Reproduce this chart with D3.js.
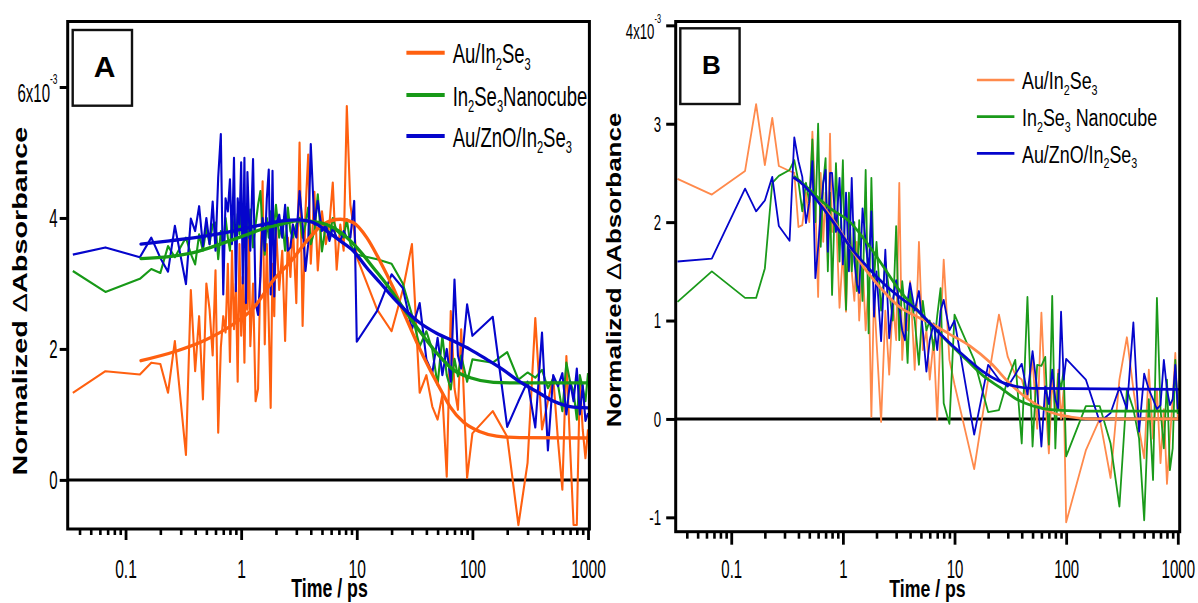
<!DOCTYPE html>
<html><head><meta charset="utf-8">
<script src="https://cdn.jsdelivr.net/npm/d3@7"></script>
<style>body{margin:0;background:#fff}svg{display:block}</style>
</head><body>
<svg id="chart" width="1198" height="603"></svg>
<script>
// ---------------- DATA (values in units of 1e-3) ----------------
const xTickValues = [0.1, 1, 10, 100, 1000];
const xTickLabels = ["0.1", "1", "10", "100", "1000"];
const yTicksA = [0, 2, 4, 6];
const yTickLabelsA = ["0", "2", "4", "6x10^-3"];
const yTicksB = [-1, 0, 1, 2, 3, 4];
const yTickLabelsB = ["-1", "0", "1", "2", "3", "4x10^-3"];
const seriesNamesA = ["Au/In_2Se_3", "In_2Se_3Nanocube", "Au/ZnO/In_2Se_3"];
const seriesNamesB = ["Au/In_2Se_3", "In_2Se_3 Nanocube", "Au/ZnO/In_2Se_3"];

const timeA = [
 0.035,0.067,0.133,0.167,0.2,0.233,0.267,0.333,0.367,0.4,
 0.433,0.467,0.5,0.533,0.567,0.6,0.633,0.667,0.7,0.733,
 0.767,0.8,0.833,0.867,0.9,0.933,0.967,1.0,1.033,1.067,
 1.1,1.133,1.167,1.2,1.267,1.333,1.4,1.467,1.533,1.6,
 1.667,1.733,1.8,1.867,1.933,2.0,2.133,2.267,2.4,2.533,
 2.667,2.8,3.0,3.2,3.4,3.6,3.8,4.0,4.3,4.6,
 5.0,5.4,5.8,6.2,6.7,7.2,7.7,8.2,8.8,9.5,
 10,15,20,25,30,35,40,45,50,55,
 60,65,70,75,80,90,100,150,200,250,
 300,350,400,450,500,550,600,650,700,750,
 800,850,900,950,1000];
const auIn2Se3A = [
 1.33,1.66,1.61,1.79,1.77,1.33,2.12,0.38,2.9,1.66,
 2.5,1.23,3.0,2.6,1.9,3.2,0.72,2.02,2.5,2.25,
 3.3,1.8,3.5,2.3,3.0,1.5,3.6,2.2,3.1,1.79,
 3.3,2.6,3.8,2.04,3.0,1.2,1.39,3.2,4.56,2.07,
 3.6,2.4,1.1,3.3,2.5,3.9,2.9,3.5,2.12,3.7,
 3.1,3.9,2.7,5.15,2.35,4.1,4.97,3.3,4.4,3.2,
 4.1,3.6,3.9,4.54,3.21,3.9,3.5,5.71,4.2,3.8,
 3.4,2.6,2.27,2.9,3.6,1.33,1.6,1.12,0.92,1.3,
 0.05,2.58,1.4,1.07,2.3,0.03,0.71,1.05,0.66,-0.69,
 0.26,2.47,0.77,1.2,1.57,0.6,-0.15,1.89,0.5,-0.69,
 -0.69,1.5,0.77,0.33,0.77];
const nanocubeA = [
 3.19,2.87,3.07,3.22,3.16,3.57,3.4,3.7,3.45,3.29,
 3.75,3.5,3.85,3.6,3.9,3.93,3.37,3.8,3.55,4.0,
 3.7,3.5,4.06,3.8,3.6,4.06,3.75,4.1,3.9,4.16,
 3.55,4.0,3.7,4.13,3.55,3.9,4.2,4.41,3.8,3.44,
 4.0,3.7,4.1,3.6,3.9,4.2,3.7,3.95,3.5,4.16,
 3.8,3.7,3.9,4.0,3.7,3.9,4.16,3.6,3.8,4.36,
 3.49,3.9,3.7,4.0,3.8,3.75,3.7,3.98,3.6,3.5,
 3.44,3.37,3.3,3.0,2.52,2.04,2.27,1.99,1.45,2.2,
 1.6,1.38,1.85,1.58,1.9,1.5,1.84,1.79,1.95,1.53,
 1.64,1.56,1.68,1.40,1.55,1.45,1.05,1.79,1.5,1.35,
 0.92,1.6,1.4,1.2,1.63];
const auZnOIn2Se3A = [
 3.44,3.55,3.4,3.7,3.39,3.18,3.88,2.99,3.99,3.8,
 4.18,3.57,4.0,3.6,4.25,3.5,4.62,5.28,2.83,4.3,
 4.1,4.59,3.6,4.92,2.88,4.3,3.9,4.85,3.0,4.92,
 2.7,4.7,4.0,3.5,4.9,2.7,2.52,3.1,4.0,3.5,
 4.3,4.74,2.83,4.72,2.8,3.9,4.05,3.7,4.2,3.5,
 3.55,3.9,3.7,4.41,3.9,3.19,3.6,5.13,3.9,4.26,
 3.8,3.9,3.65,3.85,3.7,3.65,3.8,3.7,3.7,4.26,
 2.11,2.58,3.14,2.93,2.3,2.7,1.84,1.63,2.17,1.6,
 2.0,1.5,3.06,1.9,1.7,2.68,2.2,2.49,0.81,1.2,
 1.5,0.8,2.25,0.45,1.6,1.43,1.63,1.0,1.5,1.2,
 1.7,1.0,1.45,0.9,1.02];

const fitTimeAuA = [0.136,0.268,0.47,0.89,1.27,1.9,2.7,3.7,5.1,7.2,9.3,12.2,15.9,20.7,27,33,43,53,64,84,115,162,256,1000];
const fitAuA     = [1.82,1.96,2.12,2.4,2.62,3.05,3.34,3.65,3.9,3.98,3.93,3.7,3.34,2.93,2.45,2.1,1.68,1.38,1.12,0.88,0.74,0.67,0.645,0.64];
const fitTimeCubeA = [0.136,0.24,0.386,0.66,1.1,1.46,2.17,3.2,4.8,6.3,8.2,10.7,13.9,18.2,23.6,35,49,68.5,96,152,256,1000];
const fitCubeA     = [3.38,3.41,3.47,3.6,3.74,3.82,3.9,3.96,3.93,3.85,3.7,3.49,3.24,2.98,2.7,2.27,1.94,1.68,1.56,1.49,1.48,1.48];
const fitTimeZnOA = [0.136,0.24,0.44,0.75,1.46,2.17,3.2,4.2,5.5,7.2,9.4,12.2,15.9,20.7,35,49,68.5,96,133,185,256,360,505,700,1000];
const fitZnOA     = [3.6,3.65,3.71,3.78,3.89,3.95,3.97,3.93,3.8,3.65,3.49,3.24,3.01,2.78,2.4,2.24,2.12,1.99,1.84,1.68,1.5,1.35,1.2,1.12,1.1];

const timeB = [
 0.033,0.067,0.133,0.167,0.2,0.233,0.267,0.333,0.367,0.4,
 0.433,0.467,0.5,0.533,0.567,0.6,0.633,0.667,0.7,0.733,
 0.767,0.8,0.867,0.933,1.0,1.067,1.133,1.2,1.267,1.333,
 1.4,1.5,1.6,1.7,1.8,1.9,2.0,2.2,2.4,2.6,
 2.8,3.0,3.2,3.4,3.6,3.8,4.0,4.4,4.8,5.2,
 5.6,6.0,6.5,7.0,7.5,8.0,9.0,10,15,20,
 25,30,35,40,45,50,55,60,65,70,
 75,80,85,90,95,100,150,200,250,300,
 350,400,450,500,550,600,650,700,750,800,
 850,900,950,1000];
const auIn2Se3B = [
 2.44,2.28,2.52,3.2,2.58,3.06,2.57,2.52,2.5,1.95,
 1.97,2.3,2.0,2.92,2.2,1.24,2.5,1.8,2.3,1.6,
 2.9,1.9,2.1,1.13,1.7,1.09,2.2,1.5,1.2,1.8,
 1.0,1.6,0.9,1.4,0.02,1.3,0.8,-0.03,1.1,0.45,
 1.2,0.8,2.4,0.6,1.1,0.9,1.4,0.5,1.8,0.7,
 0.9,0.4,0.8,-0.01,0.9,1.62,0.6,0.35,-0.51,0.4,
 1.06,0.63,0.45,0.4,0.2,0.6,-0.1,1.08,0.2,-0.35,
 0.4,0.1,0.5,0.0,0.3,-1.05,-0.32,0.0,-0.6,0.4,
 0.83,0.3,-0.1,-0.4,0.5,-0.2,0.3,-0.45,0.1,-0.66,
 -0.2,0.2,0.67,-0.01];
const nanocubeB = [
 1.19,1.5,1.23,1.23,1.53,2.4,2.47,2.53,2.63,2.41,
 2.11,2.4,2.2,2.84,2.0,3.0,1.75,2.4,2.65,1.5,
 2.3,1.26,2.6,1.6,2.63,1.11,2.3,1.5,2.0,1.3,
 2.02,1.2,2.53,0.87,2.45,1.4,1.8,1.1,1.6,1.3,
 1.0,1.96,0.8,1.4,1.1,0.57,1.3,1.0,0.55,1.2,
 0.9,1.0,0.7,1.05,1.33,0.16,-0.05,1.06,0.6,0.07,
 0.09,0.4,0.6,-0.25,1.24,-0.28,0.55,0.54,0.63,-0.26,
 1.25,-0.3,0.46,0.3,0.5,-0.38,0.13,0.13,-0.25,-0.89,
 0.3,0.1,-0.2,-1.03,0.2,-0.62,1.23,0.1,-0.3,0.4,
 -0.52,-0.3,0.6,0.05];
const auZnOIn2Se3B = [
 1.6,1.63,2.34,2.11,2.22,2.46,1.96,1.81,2.86,2.62,
 2.46,1.99,2.2,2.62,1.43,1.74,2.1,2.4,2.53,1.7,
 2.5,2.5,1.9,2.45,1.57,2.3,1.5,2.45,1.6,1.38,
 1.28,2.14,1.8,1.5,2.11,1.04,1.5,0.79,1.72,0.82,
 1.2,1.41,1.14,0.9,0.8,1.2,1.38,1.1,1.3,0.9,
 0.48,0.8,0.97,0.7,1.1,1.21,0.9,1.0,-0.16,0.55,
 0.4,0.33,0.45,0.56,0.25,0.69,0.3,-0.28,0.33,0.15,
 0.5,0.2,0.1,1.09,0.4,0.61,0.4,-0.03,0.06,0.32,
 0.1,0.98,-0.13,0.46,0.3,0.2,0.1,0.14,0.6,0.3,
 0.14,0.2,0.55,0.1];

const fitTimeAuB = [0.366,0.41,0.82,1.16,1.64,2.3,3.2,4.6,6.4,9.1,13.8,21,31.3,48.4,72,110,165,1000];
const fitAuB     = [2.45,2.41,2.02,1.75,1.5,1.3,1.14,1.04,0.96,0.86,0.74,0.57,0.36,0.18,0.07,0.02,0.0,0.0];
const fitTimeCubeB = [0.37,0.41,0.77,1.16,1.64,2.3,3.2,4.6,6.4,9.1,12.8,18,25.5,36,51,72,142,1000];
const fitCubeB     = [2.46,2.42,2.14,2.0,1.79,1.55,1.31,1.11,0.94,0.76,0.6,0.44,0.32,0.2,0.13,0.095,0.08,0.08];
const fitTimeZnOB = [0.366,0.41,0.82,1.16,1.64,2.3,3.2,4.6,6.4,9.1,12.8,18,25.5,36,51,1000];
const fitZnOB     = [2.45,2.41,2.0,1.75,1.55,1.38,1.24,1.11,0.94,0.77,0.62,0.48,0.38,0.33,0.31,0.3];

// ---------------- DRAWING ----------------
const FONT = "Arial, 'Liberation Sans', sans-serif";
const svg = d3.select("#chart");
const defs = svg.append("defs");

function rich(textSel, str, size, opts) {
  const o = Object.assign({subScale:0.6, subDy:0.24, supScale:0.56, supDy:-0.72}, opts||{});
  const parts = str.split(/(_\d|\^-?\d+)/).filter(s => s.length);
  let shift = 0;
  parts.forEach(p => {
    if (p[0] === "_") {
      const d = size * o.subDy;
      textSel.append("tspan").text(p.slice(1)).style("font-size", (size*o.subScale)+"px").attr("dy", d - shift);
      shift = d;
    } else if (p[0] === "^") {
      const d = size * o.supDy;
      textSel.append("tspan").text(p.slice(1)).style("font-size", (size*o.supScale)+"px").attr("dy", d - shift);
      shift = d;
    } else {
      textSel.append("tspan").text(p).attr("dy", -shift);
      shift = 0;
    }
  });
}

function drawPanel(c) {
  const x = d3.scaleLog().domain(c.xDomain).range([c.left, c.right]);
  const y = d3.scaleLinear().domain(c.yDomain).range([c.bottom, c.top]);
  const g = svg.append("g");

  defs.append("clipPath").attr("id", "clip" + c.name).append("rect")
    .attr("x", c.left).attr("y", c.top).attr("width", c.right - c.left).attr("height", c.bottom - c.top);

  // zero line
  g.append("line").attr("x1", c.left).attr("x2", c.right).attr("y1", y(0)).attr("y2", y(0))
    .attr("stroke", "#000").attr("stroke-width", 3);

  const plot = g.append("g").attr("clip-path", `url(#clip${c.name})`);
  const line = d3.line().x(d => x(d[0])).y(d => y(d[1]));
  c.raws.forEach((vals, i) => {
    plot.append("path").datum(d3.zip(c.time, vals)).attr("d", line)
      .attr("fill", "none").attr("stroke", c.colors[i]).attr("stroke-width", c.rawWidth)
      .attr("stroke-linejoin", "round");
  });
  const fitLine = d3.line().curve(d3.curveMonotoneX).x(d => x(d[0])).y(d => y(d[1]));
  c.fits.forEach((f, i) => {
    plot.append("path").datum(d3.zip(f[0], f[1])).attr("d", fitLine)
      .attr("fill", "none").attr("stroke", c.colors[i]).attr("stroke-width", c.fitWidth)
      .attr("stroke-linecap", "round").attr("stroke-linejoin", "round");
  });

  // frame
  g.append("rect").attr("x", c.left).attr("y", c.top).attr("width", c.right - c.left)
    .attr("height", c.bottom - c.top).attr("fill", "none").attr("stroke", "#000").attr("stroke-width", 3);

  // x axis: minor & major ticks
  const minors = x.ticks().filter(v => !xTickValues.some(m => Math.abs(m - v) < 1e-9));
  const gMinor = g.append("g").attr("transform", `translate(0,${c.bottom})`)
    .call(d3.axisBottom(x).tickValues(minors).tickSize(c.minorLen).tickFormat(""));
  gMinor.select(".domain").remove();
  gMinor.selectAll("line").attr("stroke", "#000").attr("stroke-width", 2.6);
  const gMajor = g.append("g").attr("transform", `translate(0,${c.bottom})`)
    .call(d3.axisBottom(x).tickValues(xTickValues).tickSize(c.majorLen).tickFormat((d, i) => xTickLabels[i]));
  gMajor.select(".domain").remove();
  gMajor.selectAll("line").attr("stroke", "#000").attr("stroke-width", 2.8);
  gMajor.selectAll("text").attr("y", null).attr("dy", null).attr("fill", "#000")
    .attr("transform", `translate(0,${c.xLabelOff}) scale(${c.tickSx},1)`)
    .style("font-family", FONT).style("font-size", c.xTickFont + "px");

  // y axis ticks
  const gY = g.append("g").attr("transform", `translate(${c.left},0)`)
    .call(d3.axisLeft(y).tickValues(c.yTicks).tickSize(c.yTickLen).tickFormat(""));
  gY.select(".domain").remove();
  gY.selectAll("line").attr("stroke", "#000").attr("stroke-width", 3);
  c.yTicks.forEach((v, i) => {
    const lab = c.yTickLabels[i];
    const extra = lab.includes("^") ? c.expDrop : 0;
    const t = g.append("text")
      .attr("transform", `translate(${c.yLabelX},${y(v) + c.yTickFont*0.36 + extra}) scale(${c.tickSx},1)`)
      .attr("text-anchor", "end").style("font-family", FONT).style("font-size", c.yTickFont + "px");
    rich(t, lab, c.yTickFont);
  });

  // axis titles
  g.append("text").attr("transform", `translate(${c.xTitleX},${c.xTitleY}) scale(${c.xTitleSx},1)`)
    .attr("text-anchor", "middle").style("font-family", FONT).style("font-weight", "bold")
    .style("font-size", c.xTitleFont + "px").text("Time / ps");
  const yt = g.append("text").attr("transform", `translate(${c.yTitleX},${c.yTitleY}) scale(${c.yTitleSx},1) rotate(-90)`)
    .attr("text-anchor", "middle").style("font-family", FONT).style("font-weight", "bold")
    .style("font-size", c.yTitleFont + "px");
  yt.append("tspan").text("Normalized ");
  yt.append("tspan").style("font-weight", "normal").text("\u0394");
  yt.append("tspan").text("Absorbance");

  // panel letter box
  g.append("rect").attr("x", c.box[0]).attr("y", c.box[1]).attr("width", c.box[2]).attr("height", c.box[3])
    .attr("fill", "#fff").attr("stroke", "#111").attr("stroke-width", 2.4);
  g.append("text").attr("x", c.letterX).attr("y", c.letterY).attr("text-anchor", "middle")
    .style("font-family", FONT).style("font-weight", "bold").style("font-size", c.letterFont + "px").text(c.name);

  // legend
  c.names.forEach((nm, i) => {
    const ly = c.legY[i];
    g.append("line").attr("x1", c.legX1).attr("x2", c.legX2).attr("y1", ly).attr("y2", ly)
      .attr("stroke", c.colors[i]).attr("stroke-width", c.legWidth);
    const t = g.append("text").attr("transform", `translate(${c.legTextX},${ly + c.legBase}) scale(${c.legSx},1)`)
      .style("font-family", FONT).style("font-size", c.legFont + "px");
    rich(t, nm, c.legFont);
  });
}

drawPanel({
  name: "A", left: 67.7, right: 589.4, top: 21.5, bottom: 529,
  xDomain: [0.0316, 1028], yDomain: [-0.75, 7.0],
  time: timeA, raws: [auIn2Se3A, nanocubeA, auZnOIn2Se3A],
  fits: [[fitTimeAuA, fitAuA], [fitTimeCubeA, fitCubeA], [fitTimeZnOA, fitZnOA]],
  colors: ["#ff6010", "#179917", "#0505cc"], rawWidth: 2.1, fitWidth: 3.3,
  minorLen: 6, majorLen: 11, xLabelOff: 48.7, xTickFont: 26, tickSx: 0.6,
  yTicks: yTicksA, yTickLabels: yTickLabelsA, yTickLen: 8, yLabelX: 57.5, yTickFont: 25, expDrop: 6,
  xTitleX: 329.5, xTitleY: 597, xTitleFont: 25, xTitleSx: 0.71,
  yTitleX: 26.5, yTitleY: 301, yTitleFont: 28.8, yTitleSx: 0.7,
  box: [72.7, 30, 59.3, 75.7], letterX: 104.5, letterY: 76.7, letterFont: 30,
  names: seriesNamesA, legY: [52.7, 95, 136], legX1: 406.4, legX2: 444.7, legWidth: 4,
  legTextX: 452.7, legBase: 10.5, legFont: 28, legSx: 0.66
});

drawPanel({
  name: "B", left: 675.7, right: 1179.7, top: 21.5, bottom: 531.7,
  xDomain: [0.0318, 1040], yDomain: [-1.146, 4.039],
  time: timeB, raws: [auIn2Se3B, nanocubeB, auZnOIn2Se3B],
  fits: [[fitTimeAuB, fitAuB], [fitTimeCubeB, fitCubeB], [fitTimeZnOB, fitZnOB]],
  colors: ["#ff8a4c", "#1a9a1a", "#0505cc"], rawWidth: 1.8, fitWidth: 2.7,
  minorLen: 7, majorLen: 13, xLabelOff: 46.6, xTickFont: 25, tickSx: 0.6,
  yTicks: yTicksB, yTickLabels: yTickLabelsB, yTickLen: 9.5, yLabelX: 661, yTickFont: 22, expDrop: 6,
  xTitleX: 927.5, xTitleY: 597, xTitleFont: 23, xTitleSx: 0.77,
  yTitleX: 621, yTitleY: 270, yTitleFont: 26, yTitleSx: 0.78,
  box: [680.3, 28.3, 59.3, 75.7], letterX: 711.5, letterY: 74, letterFont: 26,
  names: seriesNamesB, legY: [80, 116.7, 153.3], legX1: 976.9, legX2: 1014.4, legWidth: 2.7,
  legTextX: 1022, legBase: 9.3, legFont: 24.5, legSx: 0.73
});
</script>
</body></html>
